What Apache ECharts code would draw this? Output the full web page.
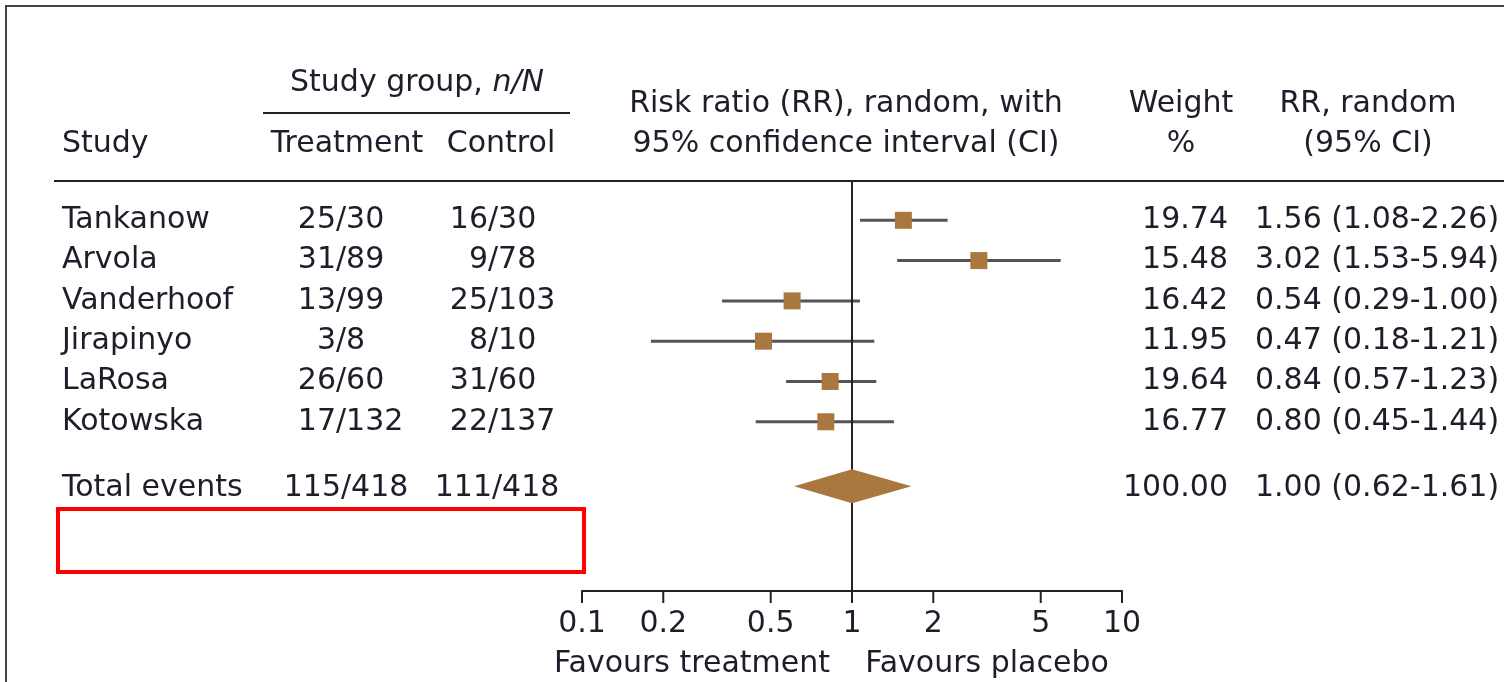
<!DOCTYPE html>
<html>
<head>
<meta charset="utf-8">
<script src="https://cdn.jsdelivr.net/npm/echarts@6/dist/echarts.min.js"></script>
<style>
html,body{margin:0;padding:0;background:#fff;}
#chart{width:1504px;height:682px;}
</style>
</head>
<body>
<div id="chart"></div>
<script>
// ---- data ----
var studies = ['Tankanow', 'Arvola', 'Vanderhoof', 'Jirapinyo', 'LaRosa', 'Kotowska'];
var treatment = ['25/30', '31/89', '13/99', '3/8', '26/60', '17/132'];
var control = ['16/30', '9/78', '25/103', '8/10', '31/60', '22/137'];
var rrPoint = [1.55, 2.95, 0.60, 0.47, 0.83, 0.80];
var rrLow = [1.07, 1.47, 0.33, 0.18, 0.57, 0.44];
var rrHigh = [2.26, 5.93, 1.07, 1.21, 1.23, 1.43];
var weights = ['19.74', '15.48', '16.42', '11.95', '19.64', '16.77'];
var rrText = ['1.56 (1.08-2.26)', '3.02 (1.53-5.94)', '0.54 (0.29-1.00)', '0.47 (0.18-1.21)', '0.84 (0.57-1.23)', '0.80 (0.45-1.44)'];
var rowPos = [0, 1, 2, 3, 4, 5];

var totalLabel = 'Total events';
var totalTreatment = '115/418';
var totalControl = '111/418';
var totalPoint = 1.00;
var totalLow = 0.61;
var totalHigh = 1.66;
var totalWeight = '100.00';
var totalRRText = '1.00 (0.62-1.61)';
var totalRow = 6.6;

var tickValues = [0.1, 0.2, 0.5, 1, 2, 5, 10];
var tickLabels = ['0.1', '0.2', '0.5', '1', '2', '5', '10'];

// ---- style ----
var FONT_FAMILY = '"DejaVu Sans", sans-serif';
var FS = 30;
var TXT = '#1e1e2a';
var BROWN = '#a8783f';
var Y_MIN = -1, Y_MAX = 9.2;

function txt(x, y, s, align, extra) {
  var st = {
    text: s, x: x, y: y, fill: TXT,
    font: FS + 'px ' + FONT_FAMILY,
    fontSize: FS, fontFamily: FONT_FAMILY,
    align: align, textAlign: align,
    verticalAlign: 'middle', textVerticalAlign: 'middle'
  };
  if (extra) for (var k in extra) st[k] = extra[k];
  return { type: 'text', silent: true, style: st };
}

// slash-aligned fraction text
function frac(slashX, y, s) {
  var p = s.split('/');
  return [txt(slashX, y, p[0], 'right'), txt(slashX, y, '/' + p[1], 'left')];
}

var tableRows = rowPos.map(function (r, i) {
  return [r, i];
});
tableRows.push([totalRow, -1]);

var chart = echarts.init(document.getElementById('chart'), null, { renderer: 'canvas' });

var option = {
  animation: false,
  backgroundColor: '#fff',
  grid: { left: 582, right: 382, top: 180, bottom: 91, containLabel: false },
  xAxis: {
    type: 'log', logBase: 10, min: 0.1, max: 10,
    axisLine: { show: true, onZero: false, lineStyle: { color: '#222', width: 2 } },
    axisTick: { show: false },
    axisLabel: { show: false },
    splitLine: { show: false }
  },
  yAxis: {
    type: 'value', inverse: true, min: Y_MIN, max: Y_MAX, show: false
  },
  series: [
    {
      // confidence intervals
      type: 'custom', z: 1, clip: false,
      data: rowPos.map(function (r, i) { return [rrLow[i], rrHigh[i], r]; }),
      renderItem: function (params, api) {
        var a = api.coord([api.value(0), api.value(2)]);
        var b = api.coord([api.value(1), api.value(2)]);
        return {
          type: 'line',
          shape: { x1: a[0], y1: a[1], x2: b[0], y2: b[1] },
          style: { stroke: '#555', lineWidth: 3 }
        };
      }
    },
    {
      // line of no effect
      type: 'line', z: 2, symbol: 'none', silent: true,
      data: [[1, Y_MIN], [1, Y_MAX]],
      lineStyle: { color: '#222', width: 2 }
    },
    {
      // point estimates
      type: 'scatter', z: 3, symbol: 'rect', symbolSize: 17,
      data: rowPos.map(function (r, i) { return [rrPoint[i], r]; }),
      itemStyle: { color: BROWN, opacity: 1 }
    },
    {
      // pooled diamond
      type: 'custom', z: 3, clip: false,
      data: [[totalLow, totalPoint, totalHigh, totalRow]],
      renderItem: function (params, api) {
        var y = api.value(3);
        var l = api.coord([api.value(0), y]);
        var c = api.coord([api.value(1), y]);
        var h = api.coord([api.value(2), y]);
        var hh = 17;
        return {
          type: 'polygon',
          shape: { points: [[l[0], l[1]], [c[0], c[1] - hh], [h[0], h[1]], [c[0], c[1] + hh]] },
          style: { fill: BROWN }
        };
      }
    },
    {
      // axis ticks & labels
      type: 'custom', z: 3, clip: false,
      data: tickValues.map(function (v, i) { return [v, i]; }),
      renderItem: function (params, api) {
        var p = api.coord([api.value(0), Y_MAX]);
        var lab = tickLabels[api.value(1)];
        return {
          type: 'group',
          children: [
            { type: 'line', shape: { x1: p[0], y1: p[1], x2: p[0], y2: p[1] + 12 }, style: { stroke: '#222', lineWidth: 2 } },
            txt(p[0], p[1] + 33, lab, 'center')
          ]
        };
      }
    },
    {
      // table text columns
      type: 'custom', z: 3, clip: false,
      data: tableRows,
      renderItem: function (params, api) {
        var idx = api.value(1);
        var y = api.coord([1, api.value(0)])[1];
        var ch = [];
        if (idx >= 0) {
          ch.push(txt(62, y, studies[idx], 'left'));
          ch = ch.concat(frac(336, y, treatment[idx]));
          ch = ch.concat(frac(488, y, control[idx]));
          ch.push(txt(1228, y, weights[idx], 'right'));
          ch.push(txt(1255, y, rrText[idx], 'left'));
        } else {
          y += 2;
          ch.push(txt(62, y, totalLabel, 'left'));
          ch = ch.concat(frac(341, y, totalTreatment));
          ch = ch.concat(frac(492, y, totalControl));
          ch.push(txt(1228, y, totalWeight, 'right'));
          ch.push(txt(1255, y, totalRRText, 'left'));
        }
        return { type: 'group', children: ch };
      }
    }
  ],
  graphic: [
    // frame
    { type: 'line', shape: { x1: 5, y1: 6, x2: 1504, y2: 6 }, style: { stroke: '#444', lineWidth: 2 } },
    { type: 'line', shape: { x1: 6, y1: 6, x2: 6, y2: 682 }, style: { stroke: '#444', lineWidth: 2 } },
    // header
    {
      type: 'text', silent: true,
      style: {
        text: 'Study group, {i|n/N}', x: 417, y: 83, fill: TXT,
        font: FS + 'px ' + FONT_FAMILY, fontSize: FS, fontFamily: FONT_FAMILY,
        align: 'center', textAlign: 'center', verticalAlign: 'middle', textVerticalAlign: 'middle',
        rich: { i: { fontStyle: 'italic', fontSize: FS, fontFamily: FONT_FAMILY, fill: TXT, color: TXT } }
      }
    },
    { type: 'line', shape: { x1: 263, y1: 113, x2: 570, y2: 113 }, style: { stroke: '#222', lineWidth: 2 } },
    txt(62, 144, 'Study', 'left'),
    txt(347, 144, 'Treatment', 'center'),
    txt(501, 144, 'Control', 'center'),
    txt(846, 104, 'Risk ratio (RR), random, with', 'center'),
    txt(846, 144, '95% confidence interval (CI)', 'center'),
    txt(1181, 104, 'Weight', 'center'),
    txt(1181, 144, '%', 'center'),
    txt(1368, 104, 'RR, random', 'center'),
    txt(1368, 144, '(95% CI)', 'center'),
    { type: 'line', shape: { x1: 54, y1: 181, x2: 1504, y2: 181 }, style: { stroke: '#222', lineWidth: 2 } },
    // axis captions
    txt(692, 664, 'Favours treatment', 'center'),
    txt(987, 664, 'Favours placebo', 'center'),
    // red annotation box
    { type: 'rect', shape: { x: 58, y: 509, width: 526, height: 63 }, style: { fill: 'none', stroke: '#ff0000', lineWidth: 4 } }
  ]
};

chart.setOption(option);
</script>
</body>
</html>
